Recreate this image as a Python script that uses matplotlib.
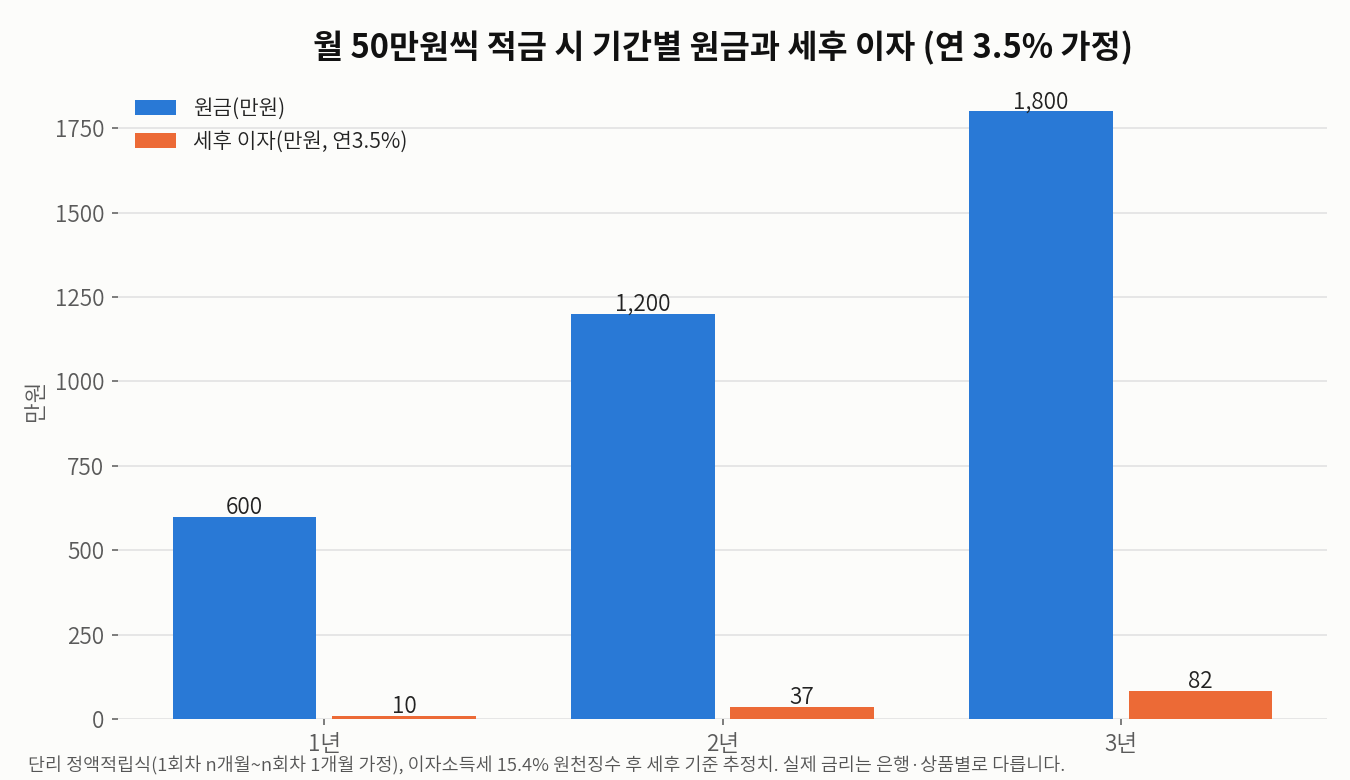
import matplotlib
matplotlib.use("Agg")
import matplotlib.pyplot as plt
import numpy as np

plt.rcParams['font.family'] = ['Noto Sans CJK JP', 'DejaVu Sans']

categories = ["1년", "2년", "3년"]
principal = [600, 1200, 1800]
interest = [10, 37, 82]
series_names = ["원금(만원)", "세후 이자(만원, 연3.5%)"]
title = "월 50만원씩 적금 시 기간별 원금과 세후 이자 (연 3.5% 가정)"
ylabel = "만원"
footnote = "단리 정액적립식(1회차 n개월~n회차 1개월 가정), 이자소득세 15.4% 원천징수 후 세후 기준 추정치. 실제 금리는 은행·상품별로 다릅니다."

bg = "#fcfcfa"
blue = "#2979d6"
orange = "#ec6a36"

fig = plt.figure(figsize=(9, 5.2), dpi=150, facecolor=bg)
ax = fig.add_axes([0.0874, 0.0782, 0.983 - 0.0874, 0.896 - 0.0782])
ax.set_facecolor(bg)

x = np.arange(1, len(categories) + 1)
w = 0.36
b1 = ax.bar(x - 0.2, principal, width=w, color=blue, label=series_names[0], zorder=3)
b2 = ax.bar(x + 0.2, interest, width=w, color=orange, label=series_names[1], zorder=3)

for bars in (b1, b2):
    ax.bar_label(bars, labels=[f"{v:,.0f}" for v in bars.datavalues],
                 padding=-1, fontsize=10.8, color="#222222", fontweight=350)

ax.set_xticks(x)
ax.set_xticklabels(categories)
ax.set_yticks([0, 250, 500, 750, 1000, 1250, 1500, 1750])
for s in ax.spines.values():
    s.set_visible(False)
ax.grid(axis="y", color="#e2e2e2", linewidth=0.8, zorder=0)
ax.set_axisbelow(True)
ax.tick_params(axis="both", colors="#666666", labelsize=10.8, length=3, width=0.8)
ax.tick_params(axis="both", labelcolor="#5a5a5a")
for lab in ax.get_xticklabels() + ax.get_yticklabels():
    lab.set_fontweight(350)

ax.set_ylabel(ylabel, fontsize=10.8, color="#5a5a5a", fontweight=350)
ax.set_title(title, fontsize=15.7, fontweight="bold", color="#111111", pad=11)

leg = ax.legend(loc="upper left", frameon=False, prop={'size': 10.2, 'weight': 350},
                borderaxespad=0.4, handlelength=1.95)
for t in leg.get_texts():
    t.set_color("#222222")

fig.text(0.0207, 0.018, footnote, fontsize=8.85, color="#555555", va="center", ha="left", fontweight=350)

fig.savefig("out.png", dpi=150, facecolor=bg)
